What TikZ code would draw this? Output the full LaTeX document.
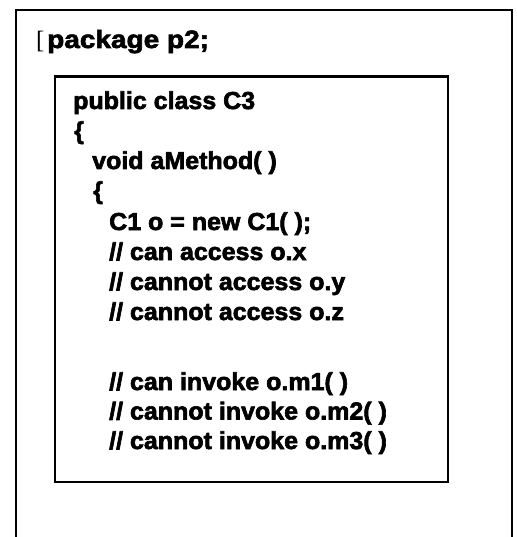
\documentclass[tikz,border=0pt]{standalone}
\usepackage{fontspec}
\setmainfont{Liberation Sans}
\newfontfamily\codefont{Liberation Sans Bold}[FakeBold=2.5,FakeStretch=1.02]
\newfontfamily\headfont{Liberation Sans Bold}[FakeBold=2.5,FakeStretch=1.12]
\newfontfamily\bracketfont{Liberation Serif}
\begin{document}
\begin{tikzpicture}[x=1pt,y=-1pt,
  code/.style={anchor=base west,inner sep=0pt,font=\codefont\fontsize{24.5}{28}\selectfont},
  frame/.style={line width=2pt,draw=black},
  boxline/.style={line width=2.4pt,draw=black}]
  \useasboundingbox[fill=white] (0,0) rectangle (516,537);

  % package frame, open at the bottom
  \coordinate (pkgBL) at (15.5,537);
  \coordinate (pkgTL) at (15.5,10);
  \coordinate (pkgTR) at (512,10);
  \coordinate (pkgBR) at (512,537);
  \draw[frame] (pkgBL) -- (pkgTL) -- (pkgTR) -- (pkgBR);

  % class box
  \node[boxline,rectangle,minimum width=393pt,minimum height=405.5pt,
        inner sep=0pt,anchor=north west] (classbox) at (53.5,75.5) {};

  % package header
  \node[anchor=base west,inner sep=0pt,font=\bracketfont\fontsize{25}{28}\selectfont] (brk) at (36,49) {[};
  \node[anchor=base west,inner sep=0pt,font=\headfont\fontsize{25}{28}\selectfont] (pkg) at (47,48) {package p2;};

  % class body
  \node[code] (l1)  at (73,109) {public class C3};
  \node[code] (l2)  at (74,139) {\{};
  \node[code] (l3)  at (92,169) {void aMethod( )};
  \node[code] (l4)  at (93,199) {\{};
  \node[code] (l5)  at (109,230) {C1 o = new C1( );};
  \node[code] (l6)  at (109,260) {// can access o.x};
  \node[code] (l7)  at (109,290) {// cannot access o.y};
  \node[code] (l8)  at (109,320) {// cannot access o.z};
  \node[code] (l9)  at (109,390) {// can invoke o.m1( )};
  \node[code] (l10) at (109,419.5) {// cannot invoke o.m2( )};
  \node[code] (l11) at (109,449) {// cannot invoke o.m3( )};
\end{tikzpicture}
\end{document}
